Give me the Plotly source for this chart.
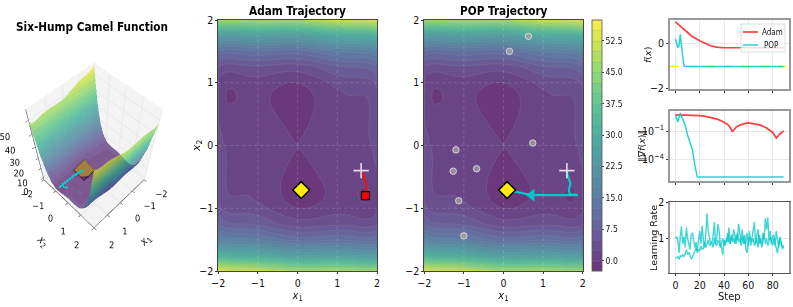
import plotly.graph_objects as go
from plotly.colors import sample_colorscale, unlabel_rgb

W, H = 793, 307
GRID_X = [-2, -1.875, -1.75, -1.625, -1.5, -1.25, -1, -.875, -.75, -.625, -.5, -.375, -.25, -.125, 0, .125, .25, .375, .5, .625, .75, .875, 1, 1.25, 1.5, 1.625, 1.75, 1.875, 2]
GRID_Y_UPPER = [0, .125, .25, .375, .5, .625, .75, .875, 1, 1.25, 1.5, 1.75, 2]
Z_UPPER = [
 [3.733,2.592,2.128,2.057,2.166,2.395,2.233,1.981,1.645,1.262,.874,.522,.242,.062,0,.062,.242,.522,.874,1.262,1.645,1.981,2.233,2.395,2.166,2.057,2.128,2.592,3.733],
 [3.421,2.296,1.847,1.792,1.916,2.177,2.046,1.810,1.489,1.122,.750,.413,.149,-.016,-.062,.016,.211,.507,.875,1.278,1.677,2.028,2.296,2.489,2.292,2.198,2.285,2.764,3.921],
 [2.999,1.889,1.456,1.417,1.556,1.848,1.749,1.528,1.223,.872,.515,.194,-.055,-.203,-.234,-.141,.070,.382,.765,1.184,1.598,1.966,2.249,2.473,2.306,2.229,2.331,2.827,3.999],
 [2.500,1.406,.989,.965,1.120,1.443,1.375,1.170,.881,.545,.203,-.102,-.335,-.468,-.483,-.374,-.147,.180,.578,1.013,1.443,1.826,2.125,2.381,2.246,2.183,2.301,2.812,4.000],
 [1.983,.904,.503,.495,.666,1.020,.983,.794,.520,.199,-.126,-.416,-.633,-.750,-.75,-.626,-.383,-.041,.374,.824,1.270,1.669,1.983,2.270,2.166,2.120,2.253,2.779,3.983],
 [1.531,.468,.082,.089,.277,.662,.656,.482,.224,-.081,-.390,-.664,-.866,-.968,-.952,-.812,-.554,-.196,.235,.701,1.162,1.576,1.906,2.224,2.152,2.121,2.270,2.812,4.031],
 [1.249,.202,-.168,-.146,.057,.473,.499,.341,.098,-.191,-.485,-.743,-.930,-1.016,-.984,-.828,-.555,-.181,.265,.747,1.223,1.653,1.999,2.348,2.307,2.292,2.457,3.014,4.249],
 [1.265,.233,-.121,-.083,.135,.583,.640,.497,.271,-.003,-.282,-.524,-.695,-.765,-.718,-.547,-.257,.132,.593,1.091,1.583,2.029,2.390,2.771,2.761,2.761,2.941,3.515,4.765],
 [1.733,.717,.378,.432,.666,1.145,1.233,1.106,.895,.637,.374,.147,-.008,-.063,0,.187,.492,.897,1.374,1.887,2.395,2.856,3.233,3.645,3.666,3.682,3.878,4.467,5.733],
 [4.749,3.764,3.456,3.542,3.807,4.348,4.499,4.403,4.223,3.997,3.765,3.569,3.445,3.422,3.516,3.734,4.070,4.507,5.015,5.559,6.098,6.591,6.999,7.473,7.557,7.604,7.831,8.452,9.749],
 [11.983,11.030,10.753,10.870,11.166,11.770,11.983,11.919,11.770,11.575,11.374,11.210,11.117,11.125,11.25,11.500,11.867,12.335,12.874,13.450,14.020,14.544,14.983,15.520,15.666,15.745,16.003,16.655,17.983],
 [25.499,24.577,24.331,24.479,24.807,25.473,25.749,25.716,25.598,25.434,25.265,25.132,25.070,25.109,25.266,25.547,25.945,26.444,27.015,27.622,28.223,28.778,29.249,29.848,30.057,30.167,30.456,31.139,32.499],
 [47.733,46.842,46.628,46.807,47.166,47.895,48.233,48.231,48.145,48.012,47.874,47.772,47.742,47.812,48,48.312,48.742,49.272,49.874,50.512,51.145,51.731,52.233,52.895,53.166,53.307,53.628,54.342,55.733],
]
GRID_Y = [-v for v in reversed(GRID_Y_UPPER[1:])] + GRID_Y_UPPER
Z = [r[::-1] for r in reversed(Z_UPPER[1:])] + Z_UPPER

ADAM_X1 = [1.6, 1.65, 1.72, 1.73, 1.71]
ADAM_X2 = [-0.4, -0.48, -0.58, -0.68, -0.8]
POP_X1 = [1.6, 1.63, 1.69, 1.65, 1.68, 1.88, 0.71, 0.09]
POP_X2 = [-0.4, -0.5, -0.6, -0.72, -0.78, -0.79, -0.79, -0.71]
POP_Z3D = [3.5, 3.4, 3.2, 3.0, 2.9, 2.8, 2.0, 1.0]
DOTS_X1 = [0.63, 0.15, 0.74, -1.2, -1.27, -0.68, -1.13, -1.0]
DOTS_X2 = [1.74, 1.5, 0.04, -0.07, -0.41, -0.37, -0.88, -1.44]
START = (1.6, -0.4)
OPT = (0.09, -0.71)
ARROW = (0.71, -0.79)

ADAM_F = [.95,.90,.85,.80,.75,.70,.65,.60,.55,.50,.46,.42,.37,.33,.29,.26,.22,.19,.16,.14,.11,.08,.05,.03,.00,-.02,-.05,-.07,-.09,-.11,-.13,-.14,-.15,-.16,-.17,-.18,-.19,-.19,-.20,-.20] + [-0.2] * 50
POP_F = [.2, .0, -.2, -.1, .4, -.1, -.6, -1.0] + [-1.03] * 82
F_MIN = -1.03
ADAM_G_STEPS = [0, 10, 20, 25, 30, 35, 40, 43, 45, 46, 47, 48, 50, 53, 56, 60, 65, 70, 75, 78, 80, 82, 83, 84, 86, 89]
ADAM_G = [5, 5, 4.3, 3.6, 2.7, 1.7, 0.85, 0.5, 0.25, 0.15, 0.08, 0.13, 0.26, 0.42, 0.58, 0.71, 0.58, 0.42, 0.21, 0.12, 0.07, 0.03, 0.018, 0.025, 0.05, 0.1]
POP_G_STEPS = [0, 2, 4, 6, 8, 10, 12, 14, 16, 18, 89]
POP_G = [5, 0.9, 8, 1.5, 0.44, 0.038, 0.0068, 0.001, 2.5e-5, 1.3e-6, 1.3e-6]
LR_A = [1.0,1.05,0.95,0.6,1.05,1.33,0.85,1.05,0.75,1.3,1.0,0.8,0.7,1.1,1.15,0.95,0.75,0.9,0.65,0.95,1.2,0.85,1.35,0.95,0.75,1.1,1.68,1.2,0.95,0.85,0.9,1.05,1.45,0.85,1.0,1.4,1.2,0.8,0.75,0.55,0.95,0.85,1.0,0.9,1.3,0.85,1.05,0.9,1.0,0.85,1.1,0.95,1.4,1.1,0.9,1.25,0.85,1.1,0.7,0.6,0.95,1.2,0.8,1.05,1.2,1.45,0.85,1.0,0.75,1.1,0.9,0.85,1.15,1.0,1.55,1.25,1.58,0.95,1.2,0.85,1.05,1.1,0.8,1.2,0.95,0.75,1.05,0.85,0.8,0.75]
LR_B = [0.45,0.47,0.5,0.42,0.52,0.5,0.55,0.5,0.57,0.7,0.55,0.62,0.5,0.45,0.48,0.55,0.65,0.75,0.6,0.7,0.65,0.8,0.7,0.72,0.9,0.75,0.85,0.95,0.8,0.85,0.9,0.75,1.0,0.85,0.8,0.95,0.9,0.75,0.85,1.0,0.85,0.8,0.95,1.15,0.9,0.85,1.1,0.95,1.25,1.0,0.85,1.15,0.9,1.0,0.8,0.95,1.05,0.85,0.9,1.15,0.8,1.05,0.95,0.9,1.0,0.8,0.9,1.05,1.25,0.85,1.0,0.75,0.95,1.1,0.85,1.0,0.8,0.95,1.05,0.9,0.8,1.0,0.85,0.75,0.6,0.85,1.0,0.9,0.7,0.8]
LEGEND_NAMES = ["Adam", "POP"]

COND = "DejaVu Sans Condensed, DejaVu Sans"
CYAN = "#00c8cc"
RED_A = "rgba(255,30,30,0.85)"
CYAN_A = "rgba(0,205,200,0.85)"
LEVEL0, LEVEL1, STEP = -2.5, 57.5, 2.5
N = int((LEVEL1 - LEVEL0) / STEP)

BASE = [unlabel_rgb(c) for c in sample_colorscale("Viridis", [i / (N - 1) for i in range(N)], colortype="rgb")]
def blend(c, a):
    return "rgb(%d,%d,%d)" % tuple(a * v + (1 - a) * 255 for v in c)
def stepped(a):
    out = []
    for i, c in enumerate(BASE):
        out += [[i / N, blend(c, a)], [(i + 1) / N, blend(c, a)]]
    return out
def smooth(a):
    return [[i / (N - 1), blend(c, a)] for i, c in enumerate(BASE)]

def xd(l, r): return [l / W, r / W]
def yd(b, t): return [1 - b / H, 1 - t / H]

fig = go.Figure()
tf = dict(family=COND, size=10.5, color="#111")
COORD = [-2, -1, 0, 1, 2]

def contour(xa, ya, scale):
    fig.add_trace(go.Contour(x=GRID_X, y=GRID_Y, z=Z, xaxis=xa, yaxis=ya, zmin=LEVEL0, zmax=LEVEL1,
        autocontour=False, contours=dict(start=LEVEL0, end=LEVEL1, size=STEP, coloring="fill"),
        colorscale=smooth(0.8), line=dict(color="rgba(150,150,150,0.4)", width=0.6, smoothing=1.0),
        showlegend=False, hoverinfo="skip", showscale=scale,
        colorbar=dict(x=592 / W, xanchor="left", y=36 / H, yanchor="bottom", len=251 / H, lenmode="fraction",
                      thickness=10, thicknessmode="pixels", tick0=0, dtick=7.5, tickformat=".1f",
                      ticks="outside", ticklen=2, tickcolor="#444", tickfont=dict(family=COND, size=8.5, color="#111"),
                      outlinecolor="#555", outlinewidth=0.8, xpad=0, ypad=0)))

contour("x", "y", False)
contour("x2", "y2", True)

def markers(xa, ya, x, y, **kw):
    fig.add_trace(go.Scatter(x=x, y=y, xaxis=xa, yaxis=ya, showlegend=False, hoverinfo="skip", **kw))

plus = dict(symbol="cross-thin", size=11, line=dict(color="rgba(255,255,255,0.8)", width=1.6))
diam = dict(symbol="diamond", size=13, color="#ffee00", line=dict(color="#000", width=1.5))
# Adam panel
markers("x", "y", ADAM_X1, ADAM_X2, mode="lines", line=dict(color="#ee1111", width=2))
markers("x", "y", [START[0]], [START[1]], mode="markers", marker=plus)
markers("x", "y", [ADAM_X1[-1]], [ADAM_X2[-1]], mode="markers", marker=dict(symbol="square", size=8, color="#ff0000", line=dict(color="#111", width=1.2)))
markers("x", "y", [OPT[0]], [OPT[1]], mode="markers", marker=diam)
# POP panel
markers("x2", "y2", DOTS_X1, DOTS_X2, mode="markers", marker=dict(symbol="circle", size=6.5, color="rgba(170,170,170,0.7)", line=dict(color="rgba(235,235,235,0.75)", width=1)))
markers("x2", "y2", POP_X1, POP_X2, mode="lines", line=dict(color=CYAN, width=2.2))
markers("x2", "y2", [ARROW[0]], [ARROW[1]], mode="markers", marker=dict(symbol="triangle-left", size=11, color=CYAN))
markers("x2", "y2", [START[0]], [START[1]], mode="markers", marker=plus)
markers("x2", "y2", [OPT[0]], [OPT[1]], mode="markers", marker=diam)

# small panels
steps = list(range(90))
fig.add_trace(go.Scatter(x=[-4.45, 93.45], y=[F_MIN, F_MIN], xaxis="x3", yaxis="y3", mode="lines", showlegend=False, hoverinfo="skip", line=dict(color="#ffee00", width=1.5, dash="dash")))
fig.add_trace(go.Scatter(x=steps, y=ADAM_F, xaxis="x3", yaxis="y3", mode="lines", showlegend=False, line=dict(color=RED_A, width=1.7)))
fig.add_trace(go.Scatter(x=steps, y=POP_F, xaxis="x3", yaxis="y3", mode="lines", showlegend=False, line=dict(color=CYAN_A, width=1.5)))
fig.add_trace(go.Scatter(x=ADAM_G_STEPS, y=ADAM_G, xaxis="x4", yaxis="y4", mode="lines", showlegend=False, line=dict(color=RED_A, width=1.7)))
fig.add_trace(go.Scatter(x=POP_G_STEPS, y=POP_G, xaxis="x4", yaxis="y4", mode="lines", showlegend=False, line=dict(color=CYAN_A, width=1.5)))
fig.add_trace(go.Scatter(x=steps, y=LR_A, xaxis="x5", yaxis="y5", mode="lines", showlegend=False, line=dict(color="rgba(0,200,200,0.75)", width=1.4)))
fig.add_trace(go.Scatter(x=steps, y=LR_B, xaxis="x5", yaxis="y5", mode="lines", showlegend=False, line=dict(color="rgba(0,200,200,0.75)", width=1.4)))

# 3-D panel
fig.add_trace(go.Surface(x=GRID_X, y=GRID_Y, z=Z, cmin=LEVEL0, cmax=LEVEL1, colorscale=stepped(1.0), opacity=0.68,
    showscale=False, hoverinfo="skip", lighting=dict(ambient=1, diffuse=0, specular=0, roughness=1, fresnel=0)))
fig.add_trace(go.Scatter3d(x=POP_X1, y=POP_X2, z=POP_Z3D, mode="lines", line=dict(color=CYAN, width=4), showlegend=False, hoverinfo="skip"))
fig.add_trace(go.Scatter3d(x=[OPT[0]], y=[OPT[1]], z=[POP_Z3D[-1]], mode="markers", showlegend=False, hoverinfo="skip",
    marker=dict(symbol="diamond", size=7, color="#a47e3c", line=dict(color="#1a0a20", width=2))))

ax2d = dict(range=[-2, 2], tickvals=COORD, ticks="outside", ticklen=2, tickcolor="#333", tickfont=tf, showgrid=False,
            zeroline=False, showline=True, linecolor="#444", linewidth=1, mirror=True)
xlab = dict(text="<i>x</i><sub>1</sub>", font=dict(family=COND, size=11, color="#111"), standoff=3)
grey = dict(showline=True, linecolor="#999", linewidth=2, mirror=True, zeroline=False, showgrid=True, gridcolor="#e8e8e8",
            ticks="outside", ticklen=2, tickcolor="#333", tickfont=tf)
axtick = dict(tickvals=[0, 20, 40, 60, 80], range=[-4.45, 93.45])
scene_ax = dict(showbackground=True, backgroundcolor="#f4f4f4", gridcolor="#e9e9e9", showspikes=False, zeroline=False,
                ticks="outside", ticklen=3, tickcolor="#333", linecolor="#333", showline=True, tickangle=0,
                tickfont=dict(family=COND, size=10.5, color="#111"))

def text(t, px, py, size=11, angle=0, family=COND, color="#111"):
    return dict(text=t, x=px / W, y=1 - py / H, xref="paper", yref="paper", showarrow=False, textangle=angle,
                xanchor="center", yanchor="middle", font=dict(family=family, size=size, color=color))

annotations = [
    text("<b>Six-Hump Camel Function</b>", 92, 27, 11.7, color="#000"),
    text("<b>Adam Trajectory</b>", 297.5, 11, 11.7, color="#000"),
    text("<b>POP Trajectory</b>", 503.5, 11, 11.7, color="#000"),
    text("<i>x</i><sub>2</sub>", 197, 146, 11, -90, "DejaVu Sans"),
    text("<i>f</i>(<i>x</i>)", 648, 55, 9.5, -90, "DejaVu Sans"),
    text("‖∇<i>f</i>(<i>x</i>)‖", 641, 146, 9.5, -90, "DejaVu Sans"),
    text("Learning Rate", 653, 238, 9.5, -90, "DejaVu Sans"),
    text("Step", 729, 296, 11),
    text("<i>x</i><sub>1</sub>", 145, 241, 11, -45),
    text("<i>x</i><sub>2</sub>", 42, 241, 11, 45),
    text(LEGEND_NAMES[0], 772, 32, 8),
    text(LEGEND_NAMES[1], 771, 45, 8),
]

fig.update_layout(
    width=W, height=H, margin=dict(l=0, r=0, t=0, b=0, autoexpand=False), paper_bgcolor="white", plot_bgcolor="white",
    font=dict(family=COND, color="#111"), autosize=False, showlegend=False,
    xaxis=dict(domain=xd(218.3, 377), title=xlab, **ax2d),
    yaxis=dict(domain=yd(271, 20), **ax2d),
    xaxis2=dict(domain=xd(424.3, 582.7), title=xlab, anchor="y2", **ax2d),
    yaxis2=dict(domain=yd(271, 20), anchor="x2", **ax2d),
    xaxis3=dict(domain=xd(670, 789), anchor="y3", showticklabels=False, **axtick, **grey),
    yaxis3=dict(domain=yd(89, 20), anchor="x3", range=[-2.03, 1.03], tickvals=[-2, 0], **grey),
    xaxis4=dict(domain=xd(670, 789), anchor="y4", showticklabels=False, **axtick, **grey),
    yaxis4=dict(domain=yd(181, 111), anchor="x4", type="log", range=[-6.3, 1.12], tickvals=[0.1, 1e-4], ticktext=["10<sup>−1</sup>", "10<sup>−4</sup>"], **grey),
    xaxis5=dict(domain=xd(670, 789), anchor="y5", **axtick, **{**grey, "linecolor": "#555", "linewidth": 1}),
    yaxis5=dict(domain=yd(273, 202), anchor="x5", range=[0.05, 2.0], tickvals=[1, 2], **{**grey, "linewidth": 1.5}),
    scene=dict(domain=dict(x=xd(0, 188), y=yd(285, 15)), aspectmode="manual", aspectratio=dict(x=1, y=1, z=1.5),
               camera=dict(eye=dict(x=1.58, y=1.58, z=3.3), center=dict(x=0, y=0, z=0), projection=dict(type="perspective")),
               xaxis=dict(range=[-2, 2], tickvals=COORD, title=dict(text=""), **scene_ax),
               yaxis=dict(range=[-2, 2], tickvals=COORD, title=dict(text=""), **scene_ax),
               zaxis=dict(range=[-2.5, 57], tickvals=[0, 10, 20, 30, 40, 50], title=dict(text=""), **scene_ax)),
    annotations=annotations,
)
# dotted grid on top of the two contour panels
gl = dict(color="rgba(255,255,255,0.2)", width=0.8, dash="dot")
for xa, ya in (("x", "y"), ("x2", "y2")):
    for v in COORD[1:-1]:
        fig.add_shape(type="line", xref=xa, yref=ya, x0=v, x1=v, y0=-2, y1=2, line=gl, layer="above")
        fig.add_shape(type="line", xref=xa, yref=ya, x0=-2, x1=2, y0=v, y1=v, line=gl, layer="above")
# legend box of the top small panel
def paper_shape(kind, x0, y0, x1, y1, **kw):
    fig.add_shape(type=kind, xref="paper", yref="paper", x0=x0 / W, x1=x1 / W, y0=1 - y0 / H, y1=1 - y1 / H, layer="above", **kw)
paper_shape("rect", 741, 24, 785, 52, fillcolor="rgba(255,255,255,0.8)", line=dict(color="#ddd", width=1))
paper_shape("line", 743, 32, 758, 32, line=dict(color=RED_A, width=1.7))
paper_shape("line", 743, 45, 758, 45, line=dict(color=CYAN_A, width=1.5))

fig.write_html("out.html", config=dict(displayModeBar=False),
               post_script="document.documentElement.style.margin='0';document.body.style.margin='0';document.body.style.overflow='hidden';")
